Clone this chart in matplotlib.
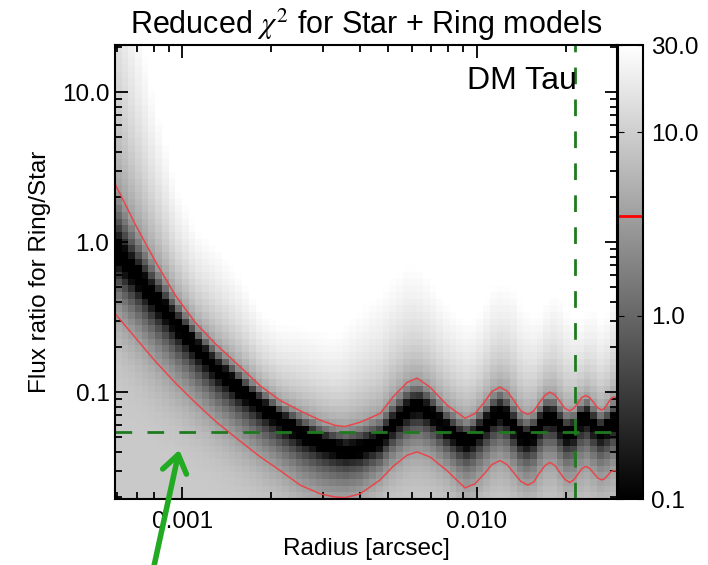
import numpy as np
import matplotlib
matplotlib.use("Agg")
import matplotlib.pyplot as plt
from matplotlib.colors import LogNorm
from matplotlib.ticker import FixedLocator, NullFormatter, LogLocator

plt.rcParams['font.family'] = ['Liberation Sans', 'DejaVu Sans']
plt.rcParams['mathtext.fontset'] = 'stix'

# radius samples read along the chi2 valley (arcsec)
radius = [0.000593, 0.000693, 0.000810, 0.000947, 0.001107, 0.001294, 0.001573,
          0.001838, 0.002148, 0.002512, 0.002936, 0.003301, 0.003569, 0.004012,
          0.004690, 0.005192, 0.005790, 0.006261, 0.006930, 0.007911, 0.009106,
          0.009844, 0.010561, 0.011239, 0.011967, 0.012639, 0.013348, 0.014098,
          0.014890, 0.015602, 0.016225, 0.017003, 0.017682, 0.018385, 0.019118,
          0.019879, 0.020671, 0.021325, 0.021999, 0.022696, 0.023416, 0.024160,
          0.024926, 0.025717, 0.026528, 0.027159, 0.027802, 0.028458, 0.029133,
          0.029826]
# flux ratio at the chi2 minimum (dark valley)
flux_best = [0.88, 0.62, 0.43, 0.30, 0.21, 0.15, 0.108, 0.085, 0.068, 0.056, 0.048,
             0.044, 0.042, 0.043, 0.048, 0.062, 0.078, 0.085, 0.075, 0.058, 0.048,
             0.052, 0.061, 0.071, 0.076, 0.071, 0.060, 0.052, 0.050, 0.054, 0.062,
             0.070, 0.072, 0.068, 0.061, 0.055, 0.054, 0.057, 0.064, 0.070, 0.072,
             0.068, 0.062, 0.057, 0.056, 0.058, 0.061, 0.064, 0.065, 0.065]
# red contour (chi2 = 3.5), upper branch
flux_upper = [2.4, 1.3, 0.74, 0.44, 0.29, 0.21, 0.147, 0.11, 0.088, 0.075, 0.065,
              0.060, 0.059, 0.063, 0.072, 0.093, 0.116, 0.124, 0.108, 0.082, 0.067,
              0.072, 0.085, 0.101, 0.108, 0.102, 0.088, 0.075, 0.071, 0.075, 0.084,
              0.095, 0.100, 0.096, 0.087, 0.078, 0.075, 0.078, 0.084, 0.092, 0.095,
              0.092, 0.085, 0.0785, 0.076, 0.078, 0.084, 0.090, 0.093, 0.092]
# red contour (chi2 = 3.5), lower branch
flux_lower = [0.33, 0.23, 0.16, 0.115, 0.085, 0.064, 0.047, 0.037, 0.030, 0.024, 0.021,
              0.020, 0.0198, 0.021, 0.026, 0.032, 0.038, 0.040, 0.037, 0.030, 0.023,
              0.0245, 0.0284, 0.0329, 0.035, 0.033, 0.029, 0.0254, 0.024, 0.0252, 0.0286,
              0.0323, 0.034, 0.0325, 0.0292, 0.0262, 0.025, 0.026, 0.0283, 0.0309, 0.032,
              0.031, 0.0288, 0.0268, 0.026, 0.0265, 0.0279, 0.0294, 0.030, 0.0298]

chi_min = 0.05
chi_star = 9.0
chi_level = 3.5
r_mark = 0.0215
f_mark = 0.054
arrow_tip = (0.00098, 0.043)

x_ticks = [0.001, 0.01]
x_ticklabels = ['0.001', '0.010']
y_ticks = [0.1, 1.0, 10.0]
y_ticklabels = ['0.1', '1.0', '10.0']
cb_ticks = [0.1, 1.0, 10.0, 30.0]
cb_ticklabels = ['0.1', '1.0', '10.0', '30.0']

# grid of the model image
r_edges = np.logspace(np.log10(0.00059), np.log10(0.0299), 76)
f_edges = np.logspace(np.log10(0.0194), np.log10(20.6), 69)
lr = 0.5 * (np.log10(r_edges[1:]) + np.log10(r_edges[:-1]))
lf = 0.5 * (np.log10(f_edges[1:]) + np.log10(f_edges[:-1]))

lrr = np.log10(radius)
lf0 = np.interp(lr, lrr, np.log10(flux_best))
lfu = np.interp(lr, lrr, np.log10(flux_upper))
lfl = np.interp(lr, lrr, np.log10(flux_lower))

d = lf[:, None] - lf0[None, :]
t_up = np.clip(d / (lfu - lf0)[None, :], 0, None)
t_lo = np.clip(-d / (lf0 - lfl)[None, :], 0, None)
a = -np.log(1 - (chi_level - chi_min) / (chi_star - chi_min))
above = np.where(t_up < 1, chi_min + (chi_level - chi_min) * t_up ** 2.5,
                 chi_level * t_up ** 1.25)
below = chi_min + (chi_star - chi_min) * (1 - np.exp(-a * t_lo ** 2.5))
chi = np.where(d >= 0, above, below)

fig = plt.figure(figsize=(7.08, 5.65), dpi=100)
ax = fig.add_axes([115 / 708, 66 / 565, 502 / 708, 454 / 565])
norm = LogNorm(vmin=0.1, vmax=30)
mesh = ax.pcolormesh(r_edges, f_edges, np.clip(chi, 0.1, 30), cmap='gray', norm=norm)

ax.plot(radius, flux_upper, color='#e8474c', lw=1.1)
ax.plot(radius, flux_lower, color='#e8474c', lw=1.1)
ax.axvline(r_mark, color='#1f7a1f', lw=2, dashes=(6, 5.5))
ax.axhline(f_mark, color='#1f7a1f', lw=2, dashes=(6, 5.5))

ax.set_xscale('log')
ax.set_yscale('log')
ax.set_xlim(r_edges[0], r_edges[-1])
ax.set_ylim(f_edges[0], f_edges[-1])
ax.xaxis.set_major_locator(FixedLocator(x_ticks))
ax.set_xticklabels(x_ticklabels)
ax.xaxis.set_minor_locator(LogLocator(subs=np.arange(2, 10)))
ax.xaxis.set_minor_formatter(NullFormatter())
ax.yaxis.set_major_locator(FixedLocator(y_ticks))
ax.set_yticklabels(y_ticklabels)
ax.yaxis.set_minor_locator(LogLocator(subs=np.arange(2, 10)))
ax.yaxis.set_minor_formatter(NullFormatter())
ax.tick_params(which='both', direction='in', top=True, right=True, labelsize=17.5, width=1.3)
ax.tick_params(which='major', length=9)
ax.tick_params(which='minor', length=5)
ax.tick_params(axis='x', pad=9)
ax.tick_params(axis='y', pad=4)
for s in ax.spines.values():
    s.set_linewidth(1.5)

ax.set_xlabel('Radius [arcsec]', fontsize=17.5, labelpad=3)
ax.set_ylabel('Flux ratio for Ring/Star', fontsize=17.5, labelpad=8)
ax.set_title(r'Reduced $\chi^2$ for Star + Ring models', fontsize=22, pad=8)
ax.text(0.92, 0.921, 'DM Tau', transform=ax.transAxes, fontsize=23, ha='right', va='center')

ax.annotate('', xy=arrow_tip, xycoords='data',
            xytext=(153 / 708, -0.01), textcoords='figure fraction',
            arrowprops=dict(arrowstyle='->,head_length=0.5,head_width=0.35',
                            lw=4, color='#22aa22', mutation_scale=25),
            annotation_clip=False)

cax = fig.add_axes([618 / 708, 66 / 565, 25 / 708, 454 / 565])
cb = fig.colorbar(mesh, cax=cax, ticks=cb_ticks)
cb.set_ticklabels(cb_ticklabels)
cax.minorticks_off()
cax.tick_params(direction='in', length=4, left=True, right=True, labelsize=17.5, pad=6)
cb.outline.set_linewidth(1.5)
cax.axhline(chi_level, color='red', lw=2)

fig.savefig('out.png', dpi=100)
